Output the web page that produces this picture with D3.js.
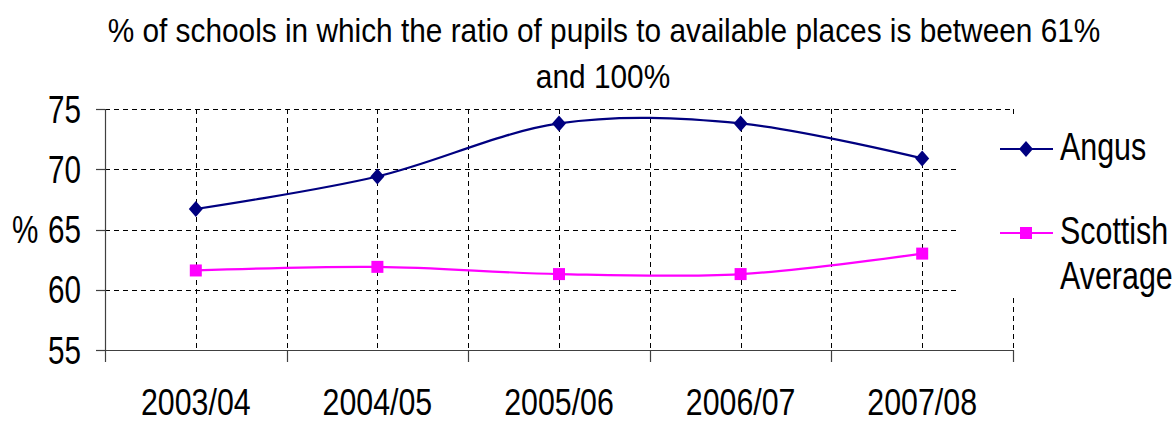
<!DOCTYPE html>
<html>
<head>
<meta charset="utf-8">
<script src="https://cdn.jsdelivr.net/npm/d3@7"></script>
<style>
  body { margin: 0; background: #fff; }
  text { font-family: "Liberation Sans", Arial, sans-serif; fill: #000; }
</style>
</head>
<body>
<script>
// Data
var years = ['2003/04', '2004/05', '2005/06', '2006/07', '2007/08'];
var angus = [66.7, 69.4, 73.8, 73.8, 70.9];
var scottish = [61.6, 61.9, 61.3, 61.3, 63.0];
var yTicks = [55, 60, 65, 70, 75];
var titleLines = ['% of schools in which the ratio of pupils to available places is between 61%', 'and 100%'];

var width = 1175,
  height = 423;

// squeeze for the narrow look of the original text
var squeeze = 0.78;

var svg = d3.select('body')
  .append('svg')
  .attr('width', width)
  .attr('height', height);

var x = d3.scaleBand()
  .domain(years)
  .range([105, 1013])
  .padding(0);

var y = d3.scaleLinear()
  .domain([55, 75])
  .range([350, 109]);

var bw = x.bandwidth();
function cx(d) { return x(d) + bw / 2; }

// gridlines: horizontal at each tick, vertical at band edges and centers
var grid = svg.append('g')
  .attr('stroke', '#000')
  .attr('stroke-width', 1)
  .attr('stroke-dasharray', '5,4');

grid.selectAll('line.h')
  .data(yTicks.slice(1))
  .enter()
  .append('line')
  .attr('x1', 105)
  .attr('x2', 1013)
  .attr('y1', function(d) { return Math.round(y(d)) + 0.5; })
  .attr('y2', function(d) { return Math.round(y(d)) + 0.5; });

var vx = [];
years.forEach(function(d) { vx.push(cx(d)); vx.push(x(d) + bw); });

grid.selectAll('line.v')
  .data(vx)
  .enter()
  .append('line')
  .attr('x1', function(d) { return Math.round(d) + 0.5; })
  .attr('x2', function(d) { return Math.round(d) + 0.5; })
  .attr('y1', y(75))
  .attr('y2', y(55));

// axes
var axis = svg.append('g').attr('stroke', '#404040').attr('stroke-width', 1.2);
axis.append('line')
  .attr('x1', 105.5).attr('x2', 105.5)
  .attr('y1', y(75)).attr('y2', y(55));
axis.append('line')
  .attr('x1', 96).attr('x2', 1013)
  .attr('y1', Math.round(y(55)) + 0.5).attr('y2', Math.round(y(55)) + 0.5);

axis.selectAll('line.yt')
  .data(yTicks)
  .enter()
  .append('line')
  .attr('x1', 96).attr('x2', 105)
  .attr('y1', function(d) { return Math.round(y(d)) + 0.5; })
  .attr('y2', function(d) { return Math.round(y(d)) + 0.5; });

axis.selectAll('line.xt')
  .data([105].concat(years.map(function(d) { return x(d) + bw; })))
  .enter()
  .append('line')
  .attr('x1', function(d) { return Math.round(d) + 0.5; })
  .attr('x2', function(d) { return Math.round(d) + 0.5; })
  .attr('y1', y(55))
  .attr('y2', y(55) + 12);

// helper for narrow text
function label(parent, str, tx, ty, size, anchor, sx) {
  return parent.append('text')
    .attr('transform', 'translate(' + tx + ',' + ty + ') scale(' + (sx || squeeze) + ',1)')
    .attr('text-anchor', anchor)
    .attr('font-size', size)
    .text(str);
}

yTicks.forEach(function(d) {
  label(svg, d, 81, y(d) + 13.5, 38, 'end');
});
label(svg, '%', 12, 243, 38, 'start');

years.forEach(function(d) {
  label(svg, d, cx(d), 415, 37, 'middle', 0.82);
});

// title, stretched to the width of the original
var t1 = label(svg, titleLines[0], 604, 42, 34, 'middle', 1);
var w1 = t1.node().getComputedTextLength();
var tsx = 993 / w1;
t1.attr('transform', 'translate(604,42) scale(' + tsx + ',1)');
label(svg, titleLines[1], 603, 88, 34, 'middle', tsx);

// legend box covers part of the grid
svg.append('rect')
  .attr('x', 958)
  .attr('y', 115)
  .attr('width', 217)
  .attr('height', 183)
  .attr('fill', '#fff');

// series
var line = d3.line()
  .x(function(d, i) { return cx(years[i]); })
  .y(function(d) { return y(d); })
  .curve(d3.curveCatmullRom.alpha(0));

var series = [
  { name: 'Angus', values: angus, color: '#000080', shape: 'diamond' },
  { name: 'Scottish', values: scottish, color: '#ff00ff', shape: 'square' }
];

function marker(g, s, px, py) {
  if (s.shape === 'diamond') {
    g.append('path')
      .attr('d', 'M' + px + ',' + (py - 8) + 'L' + (px + 7) + ',' + py + 'L' + px + ',' + (py + 8) + 'L' + (px - 7) + ',' + py + 'Z')
      .attr('fill', s.color);
  } else {
    g.append('rect')
      .attr('x', px - 6).attr('y', py - 6)
      .attr('width', 12).attr('height', 12)
      .attr('fill', s.color);
  }
}

series.forEach(function(s) {
  var g = svg.append('g');
  g.append('path')
    .datum(s.values)
    .attr('fill', 'none')
    .attr('stroke', s.color)
    .attr('stroke-width', 2.2)
    .attr('d', line);
  s.values.forEach(function(v, i) {
    marker(g, s, cx(years[i]), y(v));
  });
});

// legend
var legY = [149, 233];
series.forEach(function(s, i) {
  var g = svg.append('g');
  g.append('line')
    .attr('x1', 1000).attr('x2', 1053)
    .attr('y1', legY[i]).attr('y2', legY[i])
    .attr('stroke', s.color)
    .attr('stroke-width', 2.2);
  marker(g, s, 1026, legY[i]);
});
label(svg, 'Angus', 1060, 160, 39, 'start');
label(svg, 'Scottish', 1060, 244, 39, 'start');
label(svg, 'Average', 1060, 289, 39, 'start');
</script>
</body>
</html>
